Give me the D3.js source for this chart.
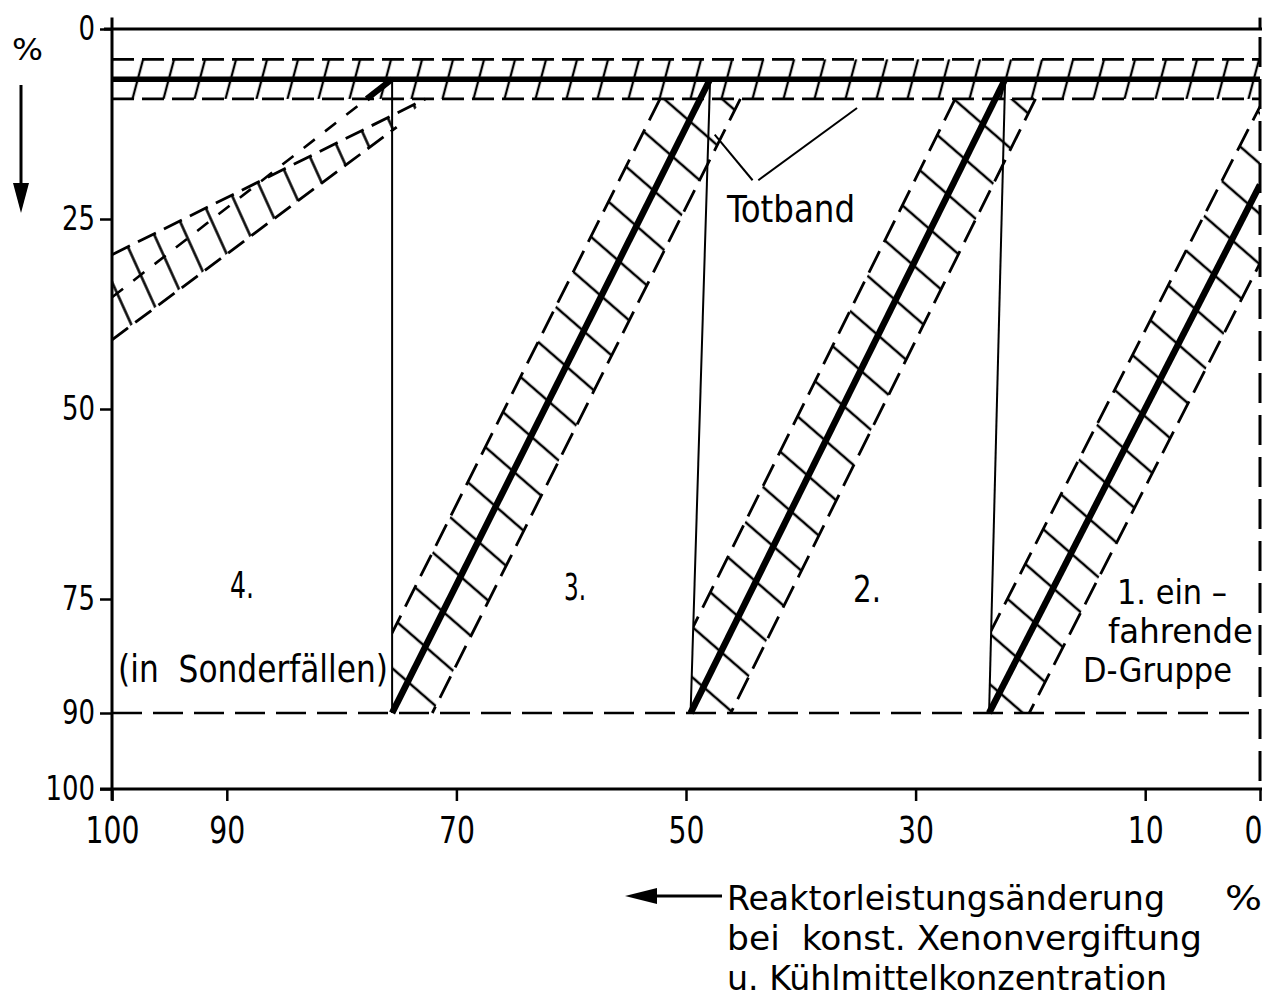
<!DOCTYPE html>
<html><head><meta charset="utf-8">
<script src="https://cdn.jsdelivr.net/npm/d3@7"></script>
<style>
body{margin:0;background:#fff;}
text{font-family:"DejaVu Sans Condensed","DejaVu Sans",sans-serif;fill:#000;white-space:pre;}
</style></head><body>
<svg id="c" width="1270" height="999" xmlns="http://www.w3.org/2000/svg"></svg>
<script>
// ---------- data ----------
const xTicks = [100, 90, 70, 50, 30, 10, 0];
const yTicks = [0, 25, 50, 75, 90, 100];
// control-rod groups 1..3: thick line from (bottomX, 90 %) to (topX, topY)
const groupBottomX = [23.6, 49.6, 75.6];
const groupTopX    = [0,    22.2, 47.9];
const groupTopY    = [20.5, 6.6,  6.6];
// thin connectors: top of next group -> bottom of this group
const connectorTopX    = [22.2, 47.9, 75.6];
const connectorBottomX = [23.6, 49.6, 75.6];
const bandHalfWidth = 3.5;              // % power, half width of hatched band
const deadBand = [4.0, 6.6, 9.2];       // upper edge, setpoint, lower edge (%)
const fullInsertion = 90;               // % (dashed line)
// group 4 (special cases) band
const group4Center = [[100, 35.3], [75.6, 6.6]];
const group4Upper  = [[100, 29.7], [72.7, 9.2]];
const group4Lower  = [[100, 40.9], [75.2, 12.9]];
// Totband leader lines
const leader1 = [[44.2, 19.9], [47.5, 13.9]];
const leader2 = [[43.7, 19.9], [35.1, 10.4]];
// texts
const groupLabels = ["1. ein –", "fahrende", "D-Gruppe", "2.", "3.", "4.", "(in  Sonderfällen)"];
const deadBandLabel = "Totband";
const xTitle = ["Reaktorleistungsänderung", "bei  konst. Xenonvergiftung", "u. Kühlmittelkonzentration"];
const unitLabel = "%";

// ---------- scales ----------
const x = d3.scaleLinear().domain([100, 0]).range([112, 1260]);
const y = d3.scaleLinear().domain([0, 100]).range([29, 789]);
const svg = d3.select("#c");
const line = d3.line().x(d => x(d[0])).y(d => y(d[1]));

// ---------- patterns ----------
const defs = svg.append("defs");
const hb = defs.append("pattern").attr("id", "hb").attr("patternUnits", "userSpaceOnUse")
  .attr("width", 31).attr("height", 20).attr("patternTransform", "skewX(-15)");
hb.append("line").attr("x1", 4).attr("x2", 4).attr("y1", -1).attr("y2", 21)
  .attr("stroke", "#000").attr("stroke-width", 2.4);
const rp = defs.append("pattern").attr("id", "rung").attr("patternUnits", "userSpaceOnUse")
  .attr("width", 40).attr("height", 38).attr("patternTransform", "rotate(41)");
rp.append("line").attr("x1", -1).attr("x2", 41).attr("y1", 19).attr("y2", 19)
  .attr("stroke", "#000").attr("stroke-width", 2.6);
const rp4 = defs.append("pattern").attr("id", "rung4").attr("patternUnits", "userSpaceOnUse")
  .attr("width", 40).attr("height", 29).attr("patternTransform", "rotate(65.6)");
rp4.append("line").attr("x1", -1).attr("x2", 41).attr("y1", 14.5).attr("y2", 14.5)
  .attr("stroke", "#000").attr("stroke-width", 2.6);

// ---------- axes ----------
const yAxis = d3.axisLeft(y).tickValues(yTicks).tickSize(12).tickSizeOuter(0).tickPadding(5);
const gy = svg.append("g").attr("transform", `translate(${x(100)},0)`).call(yAxis);
gy.select(".domain").remove();
gy.selectAll(".tick line").attr("stroke-width", 2.5);
gy.selectAll(".tick text").attr("font-size", 34).attr("font-family", null)
  .attr("textLength", d => String(d).length * 16.5).attr("lengthAdjust", "spacingAndGlyphs");

const xAxis = d3.axisBottom(x).tickValues(xTicks).tickSize(12).tickSizeOuter(0).tickPadding(15);
const gx = svg.append("g").attr("transform", `translate(0,${y(100)})`).call(xAxis);
gx.select(".domain").remove();
gx.selectAll(".tick line").attr("stroke-width", 2.5);
gx.selectAll(".tick text").attr("font-size", 38).attr("font-family", null)
  .attr("textLength", d => String(d).length * 18).attr("lengthAdjust", "spacingAndGlyphs")
  .attr("dx", d => d === 0 ? -7 : 0);

// frame lines
svg.append("line").attr("x1", x(100)).attr("x2", x(100)).attr("y1", y(-1.5)).attr("y2", y(101.5))
  .attr("stroke", "#000").attr("stroke-width", 3);
svg.append("line").attr("x1", x(100) - 8).attr("x2", x(0) + 2).attr("y1", y(0)).attr("y2", y(0))
  .attr("stroke", "#000").attr("stroke-width", 3);
svg.append("line").attr("x1", x(100) - 12).attr("x2", x(0) + 2).attr("y1", y(100)).attr("y2", y(100))
  .attr("stroke", "#000").attr("stroke-width", 3);
svg.append("line").attr("x1", x(0)).attr("x2", x(0)).attr("y1", y(-1.5)).attr("y2", y(0))
  .attr("stroke", "#000").attr("stroke-width", 3);
svg.append("line").attr("x1", x(0)).attr("x2", x(0)).attr("y1", y(0)).attr("y2", y(100))
  .attr("stroke", "#000").attr("stroke-width", 3).attr("stroke-dasharray", "30 12")
  .attr("stroke-dashoffset", -8);
// 90 % line
svg.append("line").attr("x1", x(100)).attr("x2", x(0)).attr("y1", y(fullInsertion)).attr("y2", y(fullInsertion))
  .attr("stroke", "#000").attr("stroke-width", 2.6).attr("stroke-dasharray", "30 11");

// ---------- dead band (horizontal) ----------
svg.append("rect").attr("x", x(100)).attr("width", x(0) - x(100))
  .attr("y", y(deadBand[0])).attr("height", y(deadBand[2]) - y(deadBand[0]))
  .attr("fill", "url(#hb)");
[deadBand[0], deadBand[2]].forEach(v => {
  svg.append("line").attr("x1", x(100)).attr("x2", x(0)).attr("y1", y(v)).attr("y2", y(v))
    .attr("stroke", "#000").attr("stroke-width", 2.6).attr("stroke-dasharray", "22 8");
});

// ---------- bands of groups 1..3 ----------
for (let i = 0; i < 3; i++) {
  const xc = v => groupBottomX[i] + (v - 90) * (groupTopX[i] - groupBottomX[i]) / (groupTopY[i] - 90);
  const cx = v => connectorBottomX[i] + (v - 90) * (connectorTopX[i] - connectorBottomX[i]) / (deadBand[1] - 90);
  const w = bandHalfWidth, t = deadBand[2], b = fullInsertion;
  const band = [[xc(t) + w, t], [xc(t) - w, t], [xc(b) - w, b], [xc(b) + w, b]];
  const conn = [[cx(0), 0], [0, 0], [0, 100], [cx(100), 100]];
  defs.append("clipPath").attr("id", "cc" + i).append("path").attr("d", line(conn) + "Z");
  const g = svg.append("g").attr("clip-path", `url(#cc${i})`);
  g.append("path").attr("d", line(band) + "Z").attr("fill", "url(#rung)");
  [[[xc(t) + w, t], [xc(b) + w, b]], [[xc(t) - w, t], [xc(b) - w, b]]].forEach(seg => {
    g.append("path").attr("d", line(seg)).attr("fill", "none").attr("stroke", "#000")
      .attr("stroke-width", 2.8).attr("stroke-dasharray", "24 10");
  });
}

// ---------- group 4 band ----------
const poly4 = [group4Upper[0], group4Upper[1], group4Lower[1], group4Lower[0]];
svg.append("path").attr("d", line(poly4) + "Z").attr("fill", "url(#rung4)");
[group4Upper, group4Lower].forEach(seg => {
  svg.append("path").attr("d", line(seg)).attr("fill", "none").attr("stroke", "#000")
    .attr("stroke-width", 2.8).attr("stroke-dasharray", "20 9");
});
svg.append("path").attr("d", line(group4Center)).attr("fill", "none").attr("stroke", "#000")
  .attr("stroke-width", 2.6).attr("stroke-dasharray", "14 13");
{
  const c0 = group4Center[0], c1 = group4Center[1];
  const xe = c1[0] + (deadBand[2] - c1[1]) * (c0[0] - c1[0]) / (c0[1] - c1[1]);
  svg.append("path").attr("d", line([[xe, deadBand[2]], c1])).attr("stroke", "#000")
    .attr("stroke-width", 6);
}

// ---------- dead band setpoint line ----------
svg.append("line").attr("x1", x(100)).attr("x2", x(0)).attr("y1", y(deadBand[1])).attr("y2", y(deadBand[1]))
  .attr("stroke", "#000").attr("stroke-width", 5.5);

// ---------- connectors ----------
for (let i = 0; i < 3; i++) {
  svg.append("path").attr("d", line([[connectorTopX[i], deadBand[1]], [connectorBottomX[i], fullInsertion]]))
    .attr("stroke", "#000").attr("stroke-width", 2);
}
// ---------- thick group lines ----------
defs.append("clipPath").attr("id", "plot").append("rect")
  .attr("x", x(100)).attr("y", y(0)).attr("width", x(0) - x(100)).attr("height", y(100) - y(0));
for (let i = 0; i < 3; i++) {
  svg.append("path").attr("clip-path", "url(#plot)")
    .attr("d", line([[groupBottomX[i], fullInsertion], [groupTopX[i], groupTopY[i]]]))
    .attr("stroke", "#000").attr("stroke-width", 6.5);
}

// ---------- leader lines ----------
[leader1, leader2].forEach(l => svg.append("path").attr("d", line(l)).attr("stroke", "#000").attr("stroke-width", 2));

// ---------- texts ----------
function txt(s, px, py, fs, w) {
  return svg.append("text").attr("x", px).attr("y", py).attr("font-size", fs)
    .attr("textLength", w).attr("lengthAdjust", "spacingAndGlyphs").text(s);
}
txt(unitLabel, 12, 60, 30, 31);
txt(deadBandLabel, 727, 222, 38, 128);
txt(groupLabels[5], 230, 598, 37, 24);
txt(groupLabels[4], 564, 600, 37, 22);
txt(groupLabels[3], 853, 602, 37, 28);
txt(groupLabels[6], 118, 682, 37, 270);
txt(groupLabels[0], 1117, 604, 33, 110);
txt(groupLabels[1], 1108, 643, 33, 145);
txt(groupLabels[2], 1083, 682, 33, 149);
txt(xTitle[0], 727, 910, 34, 438);
txt(xTitle[1], 727, 950, 34, 475);
txt(xTitle[2], 727, 990, 34, 440);
txt(unitLabel, 1225, 910, 34, 37);

// arrows
svg.append("line").attr("x1", 21).attr("x2", 21).attr("y1", 85).attr("y2", 186)
  .attr("stroke", "#000").attr("stroke-width", 3);
svg.append("path").attr("d", "M13,183 L29,183 L21,213 Z").attr("fill", "#000");
svg.append("line").attr("x1", 650).attr("x2", 722).attr("y1", 896).attr("y2", 896)
  .attr("stroke", "#000").attr("stroke-width", 3);
svg.append("path").attr("d", "M625,896 L657,888 L657,904 Z").attr("fill", "#000");
</script>
</body></html>
